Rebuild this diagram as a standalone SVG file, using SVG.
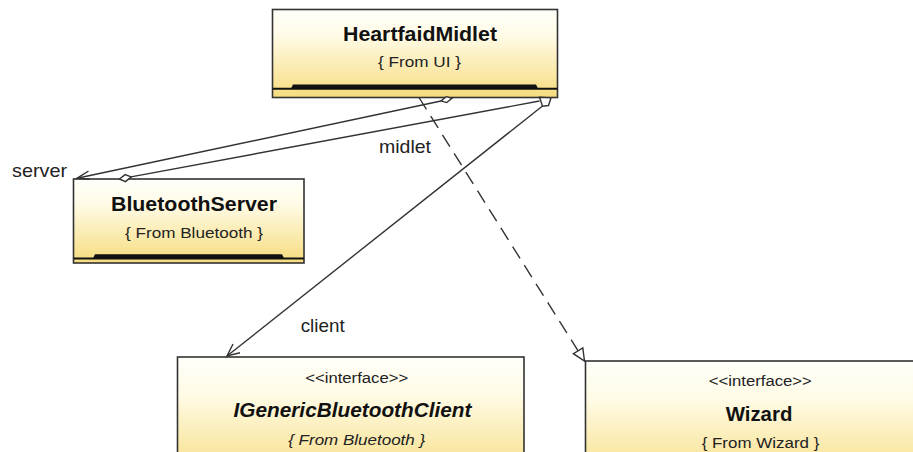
<svg xmlns="http://www.w3.org/2000/svg" width="913" height="452" viewBox="0 0 913 452">
  <style>
    .box { stroke: #333; stroke-width: 1.6; fill: url(#classFill); }
    .rule { stroke: #111; stroke-width: 2; }
    .bar { fill: #111; }
    .title { font-family: "Liberation Sans", Arial, sans-serif; font-size: 20.5px; font-weight: bold; fill: #111; text-anchor: middle; }
    .small { font-family: "Liberation Sans", Arial, sans-serif; font-size: 15.5px; fill: #222; text-anchor: middle; }
    .role { font-family: "Liberation Sans", Arial, sans-serif; font-size: 19px; fill: #222; }
    .edge { stroke: #333; stroke-width: 1.4; fill: none; }
    .end { stroke: #333; stroke-width: 1.4; fill: #fff; }
  </style>
  <defs>
    <linearGradient id="classFill" x1="0" y1="0" x2="0" y2="1">
      <stop offset="0" stop-color="#fffffa"/>
      <stop offset="0.3" stop-color="#fffbe6"/>
      <stop offset="1" stop-color="#f6dc7e"/>
    </linearGradient>
  </defs>

  <rect width="913" height="452" fill="#fff"/>

  <!-- class HeartfaidMidlet -->
  <g id="heartfaid-midlet">
    <rect class="box" x="272.5" y="9.5" width="285" height="88"/>
    <line class="rule" x1="272.5" y1="88.8" x2="557.5" y2="88.8"/>
    <polygon class="bar" points="291,88.5 293,84.5 536,84.5 538,88.5"/>
    <text class="title" x="420" y="40.5" textLength="154" lengthAdjust="spacingAndGlyphs">HeartfaidMidlet</text>
    <text class="small" x="419.5" y="66.5" textLength="83" lengthAdjust="spacingAndGlyphs">{ From UI }</text>
  </g>

  <!-- class BluetoothServer -->
  <g id="bluetooth-server">
    <rect class="box" x="73.5" y="179" width="230.5" height="84"/>
    <line class="rule" x1="73.5" y1="258.6" x2="304" y2="258.6"/>
    <polygon class="bar" points="93,258.3 95,254.3 282,254.3 284,258.3"/>
    <text class="title" x="194" y="210.5" textLength="166" lengthAdjust="spacingAndGlyphs">BluetoothServer</text>
    <text class="small" x="194" y="237.5" textLength="138" lengthAdjust="spacingAndGlyphs">{ From Bluetooth }</text>
  </g>

  <!-- interface IGenericBluetoothClient -->
  <g id="igeneric-bluetooth-client">
    <rect class="box" x="177.5" y="357" width="346.5" height="125"/>
    <text class="small" x="356.7" y="383.3" textLength="103" lengthAdjust="spacingAndGlyphs">&lt;&lt;interface&gt;&gt;</text>
    <text class="title" x="352.5" y="417.3" font-style="italic" textLength="238" lengthAdjust="spacingAndGlyphs">IGenericBluetoothClient</text>
    <text class="small" x="356.7" y="445" font-style="italic" textLength="137" lengthAdjust="spacingAndGlyphs">{ From Bluetooth }</text>
  </g>

  <!-- interface Wizard -->
  <g id="wizard">
    <rect class="box" x="585.5" y="361" width="350" height="125"/>
    <text class="small" x="760.3" y="385.7" textLength="103" lengthAdjust="spacingAndGlyphs">&lt;&lt;interface&gt;&gt;</text>
    <text class="title" x="759" y="420.7" textLength="66.7" lengthAdjust="spacingAndGlyphs">Wizard</text>
    <text class="small" x="760.5" y="448.3" textLength="117.7" lengthAdjust="spacingAndGlyphs">{ From Wizard }</text>
  </g>

  <!-- associations and realization -->
  <g id="connectors">
    <!-- HeartfaidMidlet to BluetoothServer (role: server) -->
    <line class="edge" x1="441" y1="101" x2="77" y2="178.3"/>
    <polygon class="end" points="452,98.3 446.7,102.6 441,101 446.2,96.7"/>
    <polyline class="edge" points="88.5,171 77,178.3 89.5,179.3"/>
    <text class="role" x="12" y="176.5" textLength="55" lengthAdjust="spacingAndGlyphs">server</text>

    <!-- BluetoothServer to HeartfaidMidlet (role: midlet) -->
    <line class="edge" x1="131" y1="176.9" x2="539.5" y2="101"/>
    <polygon class="end" points="119.5,179 125.5,181.6 131.2,176.9 125.1,174.6"/>
    <text class="role" x="379" y="153" textLength="52" lengthAdjust="spacingAndGlyphs">midlet</text>

    <!-- HeartfaidMidlet to IGenericBluetoothClient (role: client) -->
    <line class="edge" x1="542.5" y1="106" x2="227" y2="356"/>
    <polyline class="edge" points="233,344 227,356 240,352.8"/>
    <polygon class="end" points="539.5,97.3 551,97.8 548.5,105.5 542.5,106.3"/>
    <text class="role" x="300.7" y="331.5" textLength="44" lengthAdjust="spacingAndGlyphs">client</text>

    <!-- HeartfaidMidlet realizes Wizard -->
    <line class="edge" x1="419" y1="97.5" x2="578.1" y2="350.8" stroke-dasharray="14 8"/>
    <polygon class="end" points="584.5,361 582.8,347.9 573.4,353.7"/>
  </g>
</svg>
